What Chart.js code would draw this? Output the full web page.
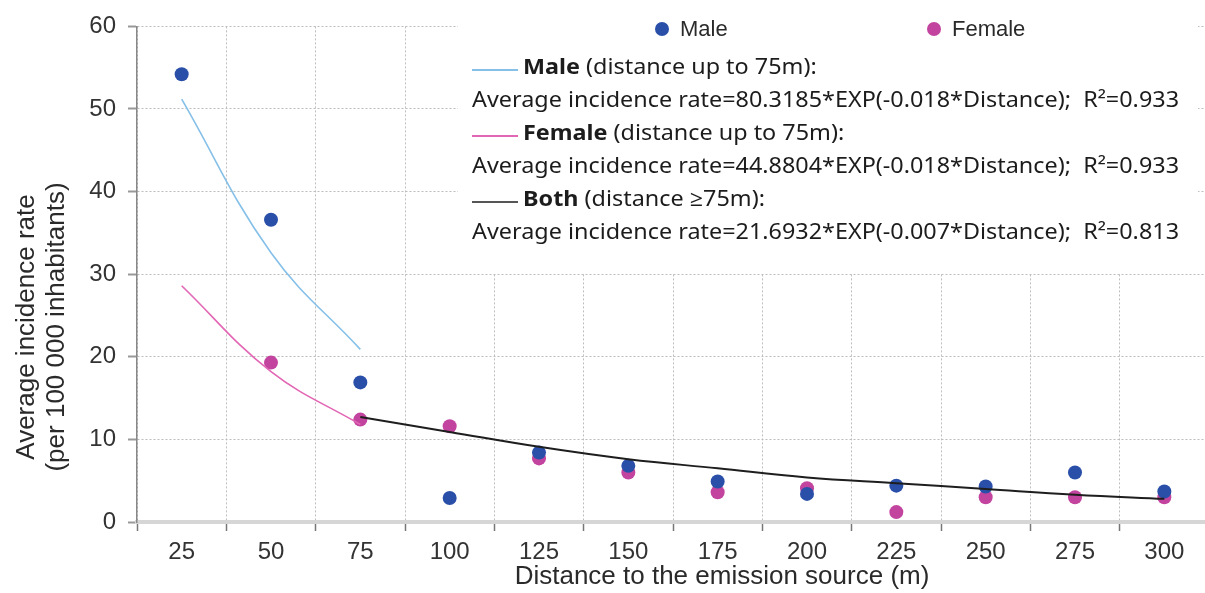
<!DOCTYPE html>
<html>
<head>
<meta charset="utf-8">
<script src="https://cdn.jsdelivr.net/npm/chart.js@4.4.1/dist/chart.umd.min.js"></script>
<style>
  html, body { margin: 0; padding: 0; background: #fff; overflow: hidden; }
  #wrap { width: 1216px; height: 593px; }
</style>
</head>
<body>
<div id="wrap"><canvas id="chart" width="1216" height="593"></canvas></div>
<script>
// distances (m) along the x axis
const distances = ['25', '50', '75', '100', '125', '150', '175', '200', '225', '250', '275', '300'];

// observed average incidence rates (per 100 000 inhabitants)
const maleRates   = [54.2, 36.6, 16.9, 2.9, 8.4, 6.8, 4.9, 3.4, 4.4, 4.3, 6.0, 3.7];
const femaleRates = [null, 19.3, 12.4, 11.6, 7.7, 6.0, 3.6, 4.1, 1.2, 3.0, 3.0, 3.0];

// fitted trend lines
const maleTrend   = [51.2, 32.6, 20.9, null, null, null, null, null, null, null, null, null];
const femaleTrend = [28.6, 18.2, 11.8, null, null, null, null, null, null, null, null, null];
const bothTrend   = [null, null, 12.7, 10.9, 9.1, 7.6, 6.5, 5.4, 4.7, 4.0, 3.3, 2.8];

const yTicks = [0, 10, 20, 30, 40, 50, 60];

const MALE = '#2a4fa8';
const FEMALE = '#c2449f';
const MALE_FIT = '#86c0e8';
const FEMALE_FIT = '#e266b4';
const BOTH_FIT = '#1e1e1e';

const sans = '"Liberation Sans", Arial, sans-serif';
const noteFamily = '"Noto Sans", "Open Sans", sans-serif';

// legend + equations box (drawn over grid, under the marks)
const notesPlugin = {
  id: 'notes',
  beforeDatasetsDraw(chart) {
    const ctx = chart.ctx;
    ctx.save();
    ctx.fillStyle = '#fff';
    ctx.fillRect(458, 4, 740, 270);

    // point legend
    ctx.textBaseline = 'middle';
    ctx.font = '22px ' + sans;
    [[662, MALE, 'Male'], [934, FEMALE, 'Female']].forEach(([x, c, t]) => {
      ctx.beginPath();
      ctx.arc(x, 29, 7, 0, Math.PI * 2);
      ctx.fillStyle = c;
      ctx.fill();
      ctx.fillStyle = '#2a2a2a';
      ctx.fillText(t, x + 18, 30);
    });

    // trend line legend
    const rows = [
      { y: 68, color: MALE_FIT, bold: 'Male', text: ' (distance up to 75m):' },
      { y: 101, text: 'Average incidence rate=80.3185*EXP(-0.018*Distance);  R²=0.933' },
      { y: 134, color: FEMALE_FIT, bold: 'Female', text: ' (distance up to 75m):' },
      { y: 167, text: 'Average incidence rate=44.8804*EXP(-0.018*Distance);  R²=0.933' },
      { y: 200, color: BOTH_FIT, bold: 'Both', text: ' (distance ≥75m):' },
      { y: 233, text: 'Average incidence rate=21.6932*EXP(-0.007*Distance);  R²=0.813' }
    ];
    const reg = '22px ' + noteFamily;
    const bld = 'bold 22px ' + noteFamily;
    ctx.font = reg;
    const sx = 707 / ctx.measureText(rows[1].text).width;

    rows.forEach(r => {
      let x0 = 472;
      if (r.bold) {
        ctx.strokeStyle = r.color;
        ctx.lineWidth = r.color === BOTH_FIT ? 1.5 : 2;
        ctx.beginPath();
        ctx.moveTo(472, r.y + 2);
        ctx.lineTo(518, r.y + 2);
        ctx.stroke();
        x0 = 523;
      }
      ctx.save();
      ctx.translate(x0, r.y);
      ctx.scale(sx, 1);
      ctx.fillStyle = '#1c1c1c';
      let off = 0;
      if (r.bold) {
        ctx.font = bld;
        ctx.fillText(r.bold, 0, 0);
        off = ctx.measureText(r.bold).width;
      }
      ctx.font = reg;
      ctx.fillText(r.text, off, 0);
      ctx.restore();
    });
    ctx.restore();
  },
  afterDraw(chart) {
    const ctx = chart.ctx;
    ctx.save();
    ctx.fillStyle = '#2a2a2a';
    ctx.font = '26px ' + sans;
    ctx.textAlign = 'center';
    ctx.textBaseline = 'middle';
    ctx.fillText('Distance to the emission source (m)', 722, 577);

    ctx.translate(0, 327);
    ctx.rotate(-Math.PI / 2);
    ctx.fillText('Average incidence rate', 0, 27);
    ctx.fillText('(per 100 000 inhabitants)', 0, 57);
    ctx.restore();
  }
};

const tickFont = { family: sans, size: 24 };

const fitLine = (data, color, width) => ({
  data, borderColor: color, borderWidth: width, pointRadius: 0, tension: 0.4, order: 0
});

new Chart(document.getElementById('chart'), {
  type: 'line',
  data: {
    labels: distances,
    datasets: [
      { label: 'Male fit', ...fitLine(maleTrend, MALE_FIT, 1.6) },
      { label: 'Female fit', ...fitLine(femaleTrend, FEMALE_FIT, 1.6) },
      { label: 'Both fit', ...fitLine(bothTrend, BOTH_FIT, 2) },
      { label: 'Male', data: maleRates, showLine: false, pointRadius: 7, pointBorderWidth: 0, pointBackgroundColor: MALE, borderColor: MALE, order: 1 },
      { label: 'Female', data: femaleRates, showLine: false, pointRadius: 7, pointBorderWidth: 0, pointBackgroundColor: FEMALE, borderColor: FEMALE, order: 2 }
    ]
  },
  options: {
    responsive: false,
    animation: false,
    layout: { padding: { top: 25, right: 2, left: 0, bottom: 0 } },
    plugins: { legend: { display: false }, tooltip: { enabled: false } },
    scales: {
      x: {
        offset: true,
        grid: { offset: true, color: '#bdbdbd', lineWidth: 1, tickLength: 9, tickColor: '#777', tickWidth: 1.5, tickBorderDash: [] },
        border: { color: '#d6d6d6', width: 4, dash: [2, 2] },
        ticks: { font: tickFont, color: '#333', padding: 7, maxRotation: 0, autoSkip: false },
        afterFit: s => { s.height = 71; }
      },
      y: {
        min: 0,
        max: 60,
        afterBuildTicks: s => { s.ticks = yTicks.map(v => ({ value: v })); },
        grid: { color: '#bdbdbd', lineWidth: 1, tickLength: 9, tickColor: '#999', tickWidth: 2, tickBorderDash: [] },
        border: { color: '#888', width: 1.5, dash: [2, 2] },
        ticks: { font: tickFont, color: '#333', padding: 12 },
        afterFit: s => { s.width = 137; }
      }
    }
  },
  plugins: [notesPlugin]
});
</script>
</body>
</html>
